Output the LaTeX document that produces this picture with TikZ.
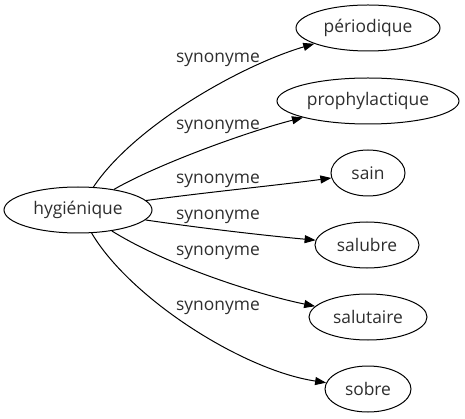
\documentclass[tikz,border=0pt]{standalone}
\usepackage{fontspec}
\setmainfont{Open Sans}
\usetikzlibrary{arrows.meta,shapes.geometric}
\begin{document}
\begin{tikzpicture}[x=1pt,y=-1pt,
  term/.style={draw,ellipse,line width=1pt,inner sep=0pt,minimum height=46pt,
    font=\fontsize{17.4}{20}\selectfont,text=black!82},
  lbl/.style={font=\fontsize{17.4}{20}\selectfont,text=black!82,inner sep=0pt,anchor=base},
  edge/.style={line width=1pt,-{Triangle[length=11pt,width=8pt]}}]
\useasboundingbox (0,0) rectangle (465,419);
\node[term,minimum width=148pt] (h) at (78,210) {hygiénique};
\node[term,minimum width=144pt] (p) at (368,28) {périodique};
\node[term,minimum width=182pt] (pr) at (368,101) {prophylactique};
\node[term,minimum width=74pt] (s) at (368,173) {sain};
\node[term,minimum width=104pt] (sb) at (367,245) {salubre};
\node[term,minimum width=118pt] (st) at (368,317) {salutaire};
\node[term,minimum width=86pt] (so) at (368,389) {sobre};
\draw[edge] (h) .. controls (135,125) and (242,65) .. (p);
\draw[edge] (h) .. controls (160,163) and (250,131) .. (pr);
\draw[edge] (h) .. controls (200,193) and (280,185) .. (s);
\draw[edge] (h) .. controls (200,228) and (260,235) .. (sb);
\draw[edge] (h) .. controls (170,267) and (260,295) .. (st);
\draw[edge] (h) .. controls (130,298) and (242,370) .. (so);
\node[lbl] (l1) at (218,63) {synonyme};
\node[lbl] (l2) at (218,130) {synonyme};
\node[lbl] (l3) at (218,184) {synonyme};
\node[lbl] (l4) at (218,220) {synonyme};
\node[lbl] (l5) at (218,255) {synonyme};
\node[lbl] (l6) at (218,310) {synonyme};
\end{tikzpicture}
\end{document}
